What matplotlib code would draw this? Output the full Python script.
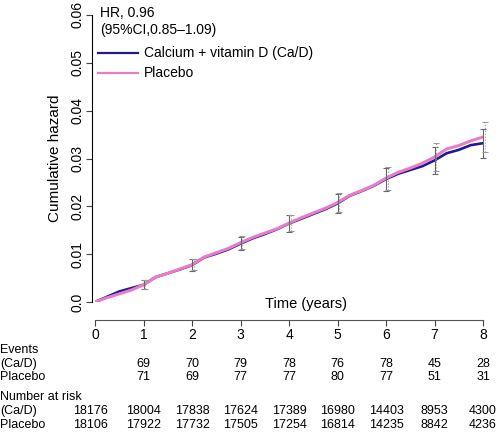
# -*- coding: utf-8 -*-
import matplotlib
matplotlib.use("AGG")
import matplotlib.pyplot as plt
import numpy as np

plt.rcParams["font.family"] = ["Liberation Sans", "DejaVu Sans"]

# cumulative hazard, every quarter year
t = [0, 0.25, 0.5, 0.75, 1, 1.25, 1.5, 1.75, 2, 2.25, 2.5, 2.75, 3, 3.25, 3.5, 3.75,
     4, 4.25, 4.5, 4.75, 5, 5.25, 5.5, 5.75, 6, 6.25, 6.5, 6.75, 7, 7.25, 7.5, 7.75, 8]
cad = [0, 0.0011, 0.0022, 0.0029, 0.0036, 0.0052, 0.0060, 0.0068, 0.0077, 0.0093, 0.0101,
       0.0110, 0.0122, 0.0133, 0.0142, 0.0152, 0.0164, 0.0174, 0.0184, 0.0194, 0.0206,
       0.0222, 0.0232, 0.0243, 0.0257, 0.0268, 0.0276, 0.0284, 0.0296, 0.0311, 0.0318,
       0.0328, 0.0332]
plac = [0, 0.0009, 0.0017, 0.0025, 0.0036, 0.0052, 0.0060, 0.0069, 0.0078, 0.0094, 0.0103,
        0.0112, 0.0124, 0.0135, 0.0144, 0.0153, 0.0165, 0.0176, 0.0186, 0.0196, 0.0208,
        0.0223, 0.0233, 0.0244, 0.0259, 0.0271, 0.0280, 0.0290, 0.0303, 0.0320, 0.0327,
        0.0337, 0.0345]

# yearly confidence bars
years = [1, 2, 3, 4, 5, 6, 7, 8]
cad_yr = [0.0036, 0.0077, 0.0122, 0.0164, 0.0206, 0.0257, 0.0296, 0.0332]
plac_yr = [0.0036, 0.0078, 0.0124, 0.0165, 0.0208, 0.0259, 0.0303, 0.0345]
cad_ci = [0.0009, 0.0012, 0.0014, 0.0017, 0.0020, 0.0024, 0.0028, 0.0030]
plac_ci = [0.0009, 0.0012, 0.0014, 0.0017, 0.0020, 0.0024, 0.0029, 0.0031]

# table below
xticks = [0, 1, 2, 3, 4, 5, 6, 7, 8]
ev_cad = ["", "69", "70", "79", "78", "76", "78", "45", "28"]
ev_plac = ["", "71", "69", "77", "77", "80", "77", "51", "31"]
risk_cad = ["18176", "18004", "17838", "17624", "17389", "16980", "14403", "8953", "4300"]
risk_plac = ["18106", "17922", "17732", "17505", "17254", "16814", "14235", "8842", "4236"]

W, H = 498, 434
fig = plt.figure(figsize=(W / 100, H / 100), dpi=100)
ax = fig.add_axes([95 / W, (H - 302) / H, 388 / W, 287 / H])

ax.plot(t, plac, color="#e87ccb", lw=2.2, zorder=3)
ax.plot(t, cad, color="#1c1c8f", lw=1.9, zorder=2)

ax.errorbar(years, cad_yr, yerr=cad_ci, fmt="none", ecolor="#666666", elinewidth=0.8,
            capsize=2, capthick=0.8, zorder=4, clip_on=False)
eb = ax.errorbar(np.array(years) + 0.04, plac_yr, yerr=plac_ci, fmt="none", ecolor="#999999",
                 elinewidth=0.8, capsize=2, capthick=0.8, zorder=4, clip_on=False)
eb[2][0].set_linestyle(":")

ax.set_xlim(0, 8)
ax.set_ylim(0, 0.06)
ax.spines["top"].set_visible(False)
ax.spines["right"].set_visible(False)
ax.spines["bottom"].set_position(("outward", 13))
ax.spines["left"].set_position(("outward", 2))
ax.spines["bottom"].set_color("#555555")
ax.set_xticks(xticks)
ax.set_xticklabels([str(v) for v in xticks], fontsize=10)
ax.set_yticks([0, 0.01, 0.02, 0.03, 0.04, 0.05, 0.06])
ax.set_yticklabels(["0.0", "0.01", "0.02", "0.03", "0.04", "0.05", "0.06"],
                   rotation=90, va="center", fontsize=10)
ax.tick_params(length=4, width=0.8, color="#444444", pad=1.5)
ax.set_ylabel("Cumulative hazard", fontsize=11, labelpad=6)

fig.text(100 / W, (H - 13) / H, "HR, 0.96", fontsize=10, va="center")
fig.text(100 / W, (H - 30) / H, "(95%CI,0.85\u20131.09)", fontsize=10, va="center")
fig.add_artist(plt.Line2D([98 / W, 138 / W], [(H - 53) / H] * 2, color="#1c1c8f", lw=1.6))
fig.add_artist(plt.Line2D([98 / W, 138 / W], [(H - 73) / H] * 2, color="#e87ccb", lw=1.6))
fig.text(144 / W, (H - 53) / H, "Calcium + vitamin D (Ca/D)", fontsize=10, va="center")
fig.text(144 / W, (H - 73) / H, "Placebo", fontsize=10, va="center")

fig.text(306 / W, (H - 304) / H, "Time (years)", fontsize=10.5, ha="center", va="center")

# table
rows = [("Events", None, 350), ("(Ca/D)", ev_cad, 364), ("Placebo", ev_plac, 377),
        ("Number at risk", None, 397), ("(Ca/D)", risk_cad, 411), ("Placebo", risk_plac, 425)]
for label, vals, y in rows:
    fig.text(0, (H - y) / H, label, fontsize=9, va="center")
    if vals is not None:
        for xv, s in zip(xticks, vals):
            px = 95 + xv * 48.5
            if xv == 0:
                px -= 5
            fig.text(px / W, (H - y) / H, s, fontsize=9, ha="center", va="center")

fig.savefig("out.png", dpi=100)
